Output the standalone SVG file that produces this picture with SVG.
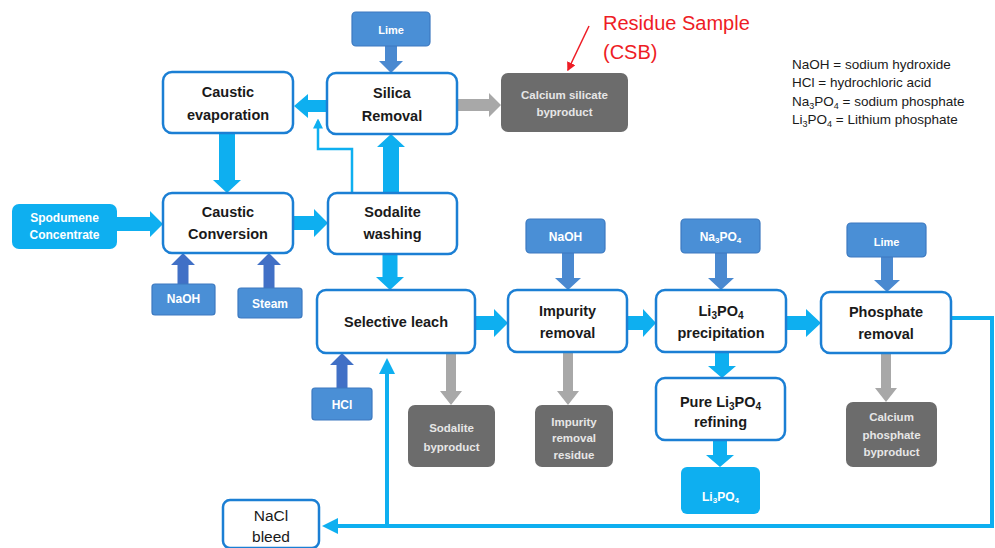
<svg xmlns="http://www.w3.org/2000/svg" width="995" height="548" viewBox="0 0 995 548">
  <style>
    .proc { fill: #ffffff; stroke: #1b7fd4; stroke-width: 2.5; }
    .reag { fill: #4a8fd6; stroke: #3c79c0; stroke-width: 1.2; }
    .feed { fill: #0eaff0; }
    .grey { fill: #6c6c6c; }
    .pt { font-family: "Liberation Sans", Arial, sans-serif; font-weight: bold; font-size: 14.5px; fill: #1a1a1a; text-anchor: middle; }
    .wt { font-family: "Liberation Sans", Arial, sans-serif; font-weight: bold; font-size: 12px; fill: #ffffff; text-anchor: middle; }
    .gt { font-family: "Liberation Sans", Arial, sans-serif; font-weight: bold; font-size: 11.5px; fill: #e6e6e6; text-anchor: middle; }
    .lg { font-family: "Liberation Sans", Arial, sans-serif; font-size: 13.5px; fill: #1a1a1a; }
    .red { font-family: "Liberation Sans", Arial, sans-serif; font-size: 20px; fill: #ee1c25; }
    .main { fill: #0eaff0; }
    .dark { fill: #4170c6; }
    .med { fill: #4a89d0; }
    .out { fill: #a8a8a8; }
    .line { fill: none; stroke: #0eaff0; stroke-width: 4; }
    .thin { fill: none; stroke: #0eaff0; stroke-width: 2.5; }
  </style>
  <defs>
    <marker id="tip" markerWidth="4" markerHeight="4" refX="3" refY="2" orient="auto" markerUnits="strokeWidth">
      <path d="M0,0 L4,2 L0,4 Z" fill="#0eaff0"/>
    </marker>
    <marker id="tipThin" markerWidth="4" markerHeight="4" refX="3" refY="2" orient="auto" markerUnits="strokeWidth">
      <path d="M0,0 L4,2 L0,4 Z" fill="#0eaff0"/>
    </marker>
    <marker id="tipRed" markerWidth="6" markerHeight="6" refX="5" refY="3" orient="auto" markerUnits="strokeWidth">
      <path d="M0,0 L6,3 L0,6 Z" fill="#ee1c25"/>
    </marker>
  </defs>

  <rect width="995" height="548" fill="#ffffff"/>

  <!-- connectors -->
  <g id="connectors">
    <!-- main flow block arrows -->
    <polygon class="main" points="117,217 150,217 150,211 163,224 150,237 150,231 117,231"/>
    <polygon class="main" points="293,216 314,216 314,209 328,223 314,237 314,230 293,230"/>
    <polygon class="main" points="219,133 235,133 235,180 241,180 227,193 213,180 219,180"/>
    <polygon class="main" points="383,193 399,193 399,147 405,147 391,134 377,147 383,147"/>
    <polygon class="main" points="327,100 308,100 308,94 294,106 308,118 308,112 327,112"/>
    <polygon class="main" points="382.5,254 397.5,254 397.5,277 404,277 390,290 376,277 382.5,277"/>
    <polygon class="main" points="475,316 494,316 494,309 508,323 494,337 494,330 475,330"/>
    <polygon class="main" points="627,316 643,316 643,309 656,323 643,337 643,330 627,330"/>
    <polygon class="main" points="786,316 806,316 806,309 821,323 806,337 806,330 786,330"/>
    <polygon class="main" points="715,352 729,352 729,366 736,366 722,378 708,366 715,366"/>
    <polygon class="main" points="713,440 727,440 727,455 734,455 720,467 706,455 713,455"/>
    <!-- wash water return into the evaporation line -->
    <polyline class="thin" points="352,193 352,149 318,149 318,121" marker-end="url(#tipThin)"/>
    <!-- reagent inputs -->
    <polygon class="med" points="385,46 397,46 397,61 403,61 391,73 379,61 385,61"/>
    <polygon class="dark" points="177.5,284 188.5,284 188.5,265 195,265 183,253 171,265 177.5,265"/>
    <polygon class="dark" points="263.5,288 274.5,288 274.5,265 281,265 269,253 257,265 263.5,265"/>
    <polygon class="dark" points="336.5,388 347.5,388 347.5,365 354,365 342,353 330,365 336.5,365"/>
    <polygon class="med" points="562,253 574,253 574,278 581,278 568,290 555,278 562,278"/>
    <polygon class="med" points="715,253 727,253 727,278 734,278 721,290 708,278 715,278"/>
    <polygon class="med" points="881,257 893,257 893,280 900,280 887,292 874,280 881,280"/>
    <!-- byproduct outputs -->
    <polygon class="out" points="457,99 489,99 489,93 501,105 489,117 489,111 457,111"/>
    <polygon class="out" points="446,353 456,353 456,391 462,391 451,405 440,391 446,391"/>
    <polygon class="out" points="563,352 573,352 573,391 579,391 568,405 557,391 563,391"/>
    <polygon class="out" points="881,353 891,353 891,388 897,388 886,402 875,388 881,388"/>
    <!-- phosphate removal liquor recycle / bleed -->
    <polyline class="line" points="951,318 992,318 992,526 326,526" marker-end="url(#tip)"/>
    <polyline class="line" points="387,526 387,362" marker-end="url(#tip)"/>
    <!-- sample pointer -->
    <line x1="589" y1="26" x2="568" y2="70" stroke="#ee1c25" stroke-width="1.5" marker-end="url(#tipRed)"/>
  </g>

  <!-- process nodes -->
  <g id="caustic-evaporation">
    <rect class="proc" x="163" y="72" width="130" height="61" rx="9"/>
    <text class="pt" x="228" y="97">Caustic</text>
    <text class="pt" x="228" y="120">evaporation</text>
  </g>
  <g id="silica-removal">
    <rect class="proc" x="327" y="73" width="130" height="61" rx="9"/>
    <text class="pt" x="392" y="98">Silica</text>
    <text class="pt" x="392" y="121">Removal</text>
  </g>
  <g id="lime-top">
    <rect class="reag" x="352" y="12" width="78" height="34" rx="4"/>
    <text class="wt" x="391" y="34" style="font-size:11px">Lime</text>
  </g>
  <g id="calcium-silicate">
    <rect class="grey" x="501" y="73" width="127" height="59" rx="7"/>
    <text class="gt" x="564.5" y="99">Calcium silicate</text>
    <text class="gt" x="564.5" y="116">byproduct</text>
  </g>
  <g id="residue-sample">
    <text class="red" x="603" y="30">Residue Sample</text>
    <text class="red" x="603" y="59">(CSB)</text>
  </g>
  <g id="legend">
    <text class="lg" x="792" y="69">NaOH = sodium hydroxide</text>
    <text class="lg" x="792" y="87">HCl = hydrochloric acid</text>
    <text class="lg" x="792" y="105.5">Na<tspan font-size="9" dy="3">3</tspan><tspan dy="-3">PO</tspan><tspan font-size="9" dy="3">4</tspan><tspan dy="-3"> = sodium phosphate</tspan></text>
    <text class="lg" x="792" y="124">Li<tspan font-size="9" dy="3">3</tspan><tspan dy="-3">PO</tspan><tspan font-size="9" dy="3">4</tspan><tspan dy="-3"> = Lithium phosphate</tspan></text>
  </g>
  <g id="spodumene">
    <rect class="feed" x="12" y="204" width="105" height="45" rx="7"/>
    <text class="wt" x="64.5" y="222">Spodumene</text>
    <text class="wt" x="64.5" y="239">Concentrate</text>
  </g>
  <g id="caustic-conversion">
    <rect class="proc" x="163" y="193" width="130" height="60" rx="9"/>
    <text class="pt" x="228" y="217">Caustic</text>
    <text class="pt" x="228" y="239">Conversion</text>
  </g>
  <g id="sodalite-washing">
    <rect class="proc" x="328" y="193" width="129" height="61" rx="9"/>
    <text class="pt" x="392.5" y="217">Sodalite</text>
    <text class="pt" x="392.5" y="239">washing</text>
  </g>
  <g id="naoh-left">
    <rect class="reag" x="152" y="284" width="63" height="31" rx="3"/>
    <text class="wt" x="183.5" y="303">NaOH</text>
  </g>
  <g id="steam">
    <rect class="reag" x="238" y="288" width="64" height="30" rx="3"/>
    <text class="wt" x="270" y="308">Steam</text>
  </g>
  <g id="selective-leach">
    <rect class="proc" x="317" y="290" width="158" height="63" rx="9"/>
    <text class="pt" x="396" y="327">Selective leach</text>
  </g>
  <g id="hcl">
    <rect class="reag" x="312" y="388" width="60" height="32" rx="3"/>
    <text class="wt" x="342" y="409">HCl</text>
  </g>
  <g id="naoh-right">
    <rect class="reag" x="526" y="219" width="79" height="34" rx="4"/>
    <text class="wt" x="565.5" y="241">NaOH</text>
  </g>
  <g id="impurity-removal">
    <rect class="proc" x="508" y="290" width="119" height="62" rx="9"/>
    <text class="pt" x="567.5" y="316">Impurity</text>
    <text class="pt" x="567.5" y="338">removal</text>
  </g>
  <g id="na3po4">
    <rect class="reag" x="681" y="219" width="79" height="34" rx="4"/>
    <text class="wt" x="720.5" y="241">Na<tspan font-size="8" dy="2">3</tspan><tspan dy="-2">PO</tspan><tspan font-size="8" dy="2">4</tspan></text>
  </g>
  <g id="li3po4-precipitation">
    <rect class="proc" x="656" y="290" width="130" height="62" rx="9"/>
    <text class="pt" x="721" y="316">Li<tspan font-size="10" dy="3">3</tspan><tspan dy="-3">PO</tspan><tspan font-size="10" dy="3">4</tspan></text>
    <text class="pt" x="721" y="338">precipitation</text>
  </g>
  <g id="lime-right">
    <rect class="reag" x="847" y="223" width="79" height="34" rx="4"/>
    <text class="wt" x="886.5" y="246" style="font-size:11px">Lime</text>
  </g>
  <g id="phosphate-removal">
    <rect class="proc" x="821" y="292" width="130" height="61" rx="9"/>
    <text class="pt" x="886" y="317">Phosphate</text>
    <text class="pt" x="886" y="339">removal</text>
  </g>
  <g id="sodalite-byproduct">
    <rect class="grey" x="408" y="405" width="87" height="62" rx="7"/>
    <text class="gt" x="451.5" y="432">Sodalite</text>
    <text class="gt" x="451.5" y="451">byproduct</text>
  </g>
  <g id="impurity-residue">
    <rect class="grey" x="535" y="405" width="78" height="62" rx="7"/>
    <text class="gt" x="574" y="426">Impurity</text>
    <text class="gt" x="574" y="442">removal</text>
    <text class="gt" x="574" y="459">residue</text>
  </g>
  <g id="pure-refining">
    <rect class="proc" x="656" y="378" width="129" height="62" rx="9"/>
    <text class="pt" x="720.5" y="407">Pure Li<tspan font-size="10" dy="3">3</tspan><tspan dy="-3">PO</tspan><tspan font-size="10" dy="3">4</tspan></text>
    <text class="pt" x="720.5" y="427">refining</text>
  </g>
  <g id="li3po4-product">
    <rect class="feed" x="681" y="467" width="79" height="47" rx="6"/>
    <text class="wt" x="720.5" y="501">Li<tspan font-size="8" dy="2">3</tspan><tspan dy="-2">PO</tspan><tspan font-size="8" dy="2">4</tspan></text>
  </g>
  <g id="calcium-phosphate">
    <rect class="grey" x="846" y="402" width="91" height="65" rx="7"/>
    <text class="gt" x="891.5" y="421">Calcium</text>
    <text class="gt" x="891.5" y="439">phosphate</text>
    <text class="gt" x="891.5" y="456">byproduct</text>
  </g>
  <g id="nacl-bleed">
    <rect class="proc" x="223" y="500" width="96" height="48" rx="7"/>
    <text x="271" y="520.5" text-anchor="middle" font-family="Liberation Sans, Arial, sans-serif" font-size="15.5" fill="#1a1a1a">NaCl</text>
    <text x="271" y="542" text-anchor="middle" font-family="Liberation Sans, Arial, sans-serif" font-size="15.5" fill="#1a1a1a">bleed</text>
  </g>
</svg>
